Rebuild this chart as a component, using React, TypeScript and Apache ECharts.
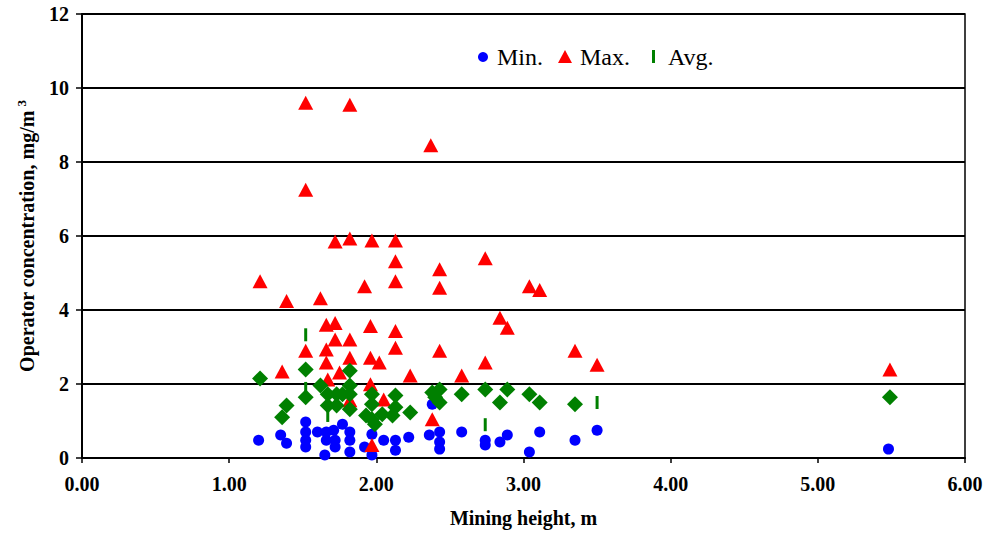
import React, { useEffect, useRef } from "react";
import * as echarts from "echarts";

const xTicks = [0, 1, 2, 3, 4, 5, 6];
const yTicks = [0, 2, 4, 6, 8, 10, 12];

const minValues: [number, number][] = [
  [1.2, 0.48], [1.35, 0.62], [1.39, 0.4], [1.52, 0.97], [1.52, 0.7], [1.52, 0.48], [1.52, 0.3],
  [1.6, 0.7], [1.66, 0.7], [1.66, 0.48], [1.65, 0.08], [1.71, 0.75], [1.72, 0.48], [1.72, 0.3],
  [1.77, 0.91], [1.82, 0.7], [1.82, 0.48], [1.82, 0.16], [1.92, 0.3], [1.97, 0.64], [1.97, 0.08],
  [2.05, 0.48], [2.13, 0.48], [2.13, 0.21], [2.22, 0.56], [2.36, 0.62], [2.38, 1.45], [2.43, 0.7],
  [2.43, 0.43], [2.43, 0.24], [2.58, 0.7], [2.74, 0.48], [2.74, 0.35], [2.84, 0.43], [2.89, 0.62],
  [3.04, 0.16], [3.11, 0.7], [3.35, 0.48], [3.5, 0.75], [5.48, 0.24],
];

const maxValues: [number, number][] = [
  [1.21, 4.78], [1.36, 2.34], [1.39, 4.24], [1.52, 9.6], [1.52, 7.25], [1.52, 2.9], [1.62, 4.32],
  [1.66, 3.6], [1.66, 2.93], [1.66, 2.58], [1.67, 2.12], [1.72, 5.85], [1.72, 3.65], [1.72, 3.2],
  [1.75, 2.31], [1.82, 9.55], [1.82, 5.93], [1.82, 3.2], [1.82, 2.71], [1.82, 1.56], [1.92, 4.64],
  [1.97, 5.88], [1.96, 3.57], [1.96, 2.71], [1.96, 1.99], [1.97, 0.35], [2.02, 2.58], [2.05, 1.58],
  [2.13, 5.88], [2.13, 5.32], [2.13, 4.78], [2.13, 3.43], [2.13, 2.98], [2.23, 2.23], [2.37, 8.45],
  [2.38, 1.05], [2.43, 5.1], [2.43, 4.6], [2.43, 2.9], [2.58, 2.23], [2.74, 5.4], [2.74, 2.58],
  [2.84, 3.79], [2.89, 3.52], [3.04, 4.64], [3.11, 4.54], [3.35, 2.9], [3.5, 2.52], [5.49, 2.39],
];

const avgDashValues: [number, number][] = [
  [1.52, 3.33], [1.52, 1.88], [1.67, 1.15], [2.74, 0.9], [3.5, 1.5],
];

const avgDiamondValues: [number, number][] = [
  [1.21, 2.15], [1.36, 1.1], [1.39, 1.42], [1.52, 2.39], [1.52, 1.64], [1.62, 1.96], [1.67, 1.72],
  [1.67, 1.42], [1.73, 1.72], [1.73, 1.42], [1.77, 1.72], [1.82, 2.36], [1.82, 1.96], [1.82, 1.72],
  [1.82, 1.32], [1.93, 1.15], [1.97, 1.72], [1.97, 1.45], [1.97, 1.05], [1.99, 0.91], [2.04, 1.18],
  [2.11, 1.15], [2.13, 1.69], [2.13, 1.37], [2.23, 1.23], [2.38, 1.77], [2.4, 1.64], [2.43, 1.85],
  [2.43, 1.5], [2.58, 1.72], [2.74, 1.85], [2.84, 1.5], [2.89, 1.85], [3.04, 1.72], [3.11, 1.5],
  [3.35, 1.45], [5.49, 1.64],
];

const legendLabels = ["Min.", "Max.", "Avg."];
const xTitle = "Mining height, m";

const SERIF = "'Liberation Serif', 'Times New Roman', serif";
const BLUE = "#0000FF";
const RED = "#FF0000";
const GREEN = "#008000";

export default function App() {
  const ref = useRef<HTMLDivElement>(null);
  useEffect(() => {
    if (!ref.current) return;
    const chart = echarts.init(ref.current, null, { renderer: "svg" });
    const legendY = 57;
    const legendFont = { fontFamily: SERIF, fontSize: 24, fill: "#000" };
    chart.setOption({
      animation: false,
      backgroundColor: "#fff",
      grid: {
        left: 82, right: 21, top: 14, bottom: 72,
        show: true, borderColor: "#000", borderWidth: 1.5, backgroundColor: "transparent",
      },
      xAxis: {
        type: "value",
        min: xTicks[0], max: xTicks[xTicks.length - 1], interval: 1,
        name: xTitle, nameLocation: "middle", nameGap: 50,
        nameTextStyle: { fontFamily: SERIF, fontWeight: "bold", fontSize: 20, color: "#000" },
        axisLine: { show: true, onZero: false, lineStyle: { color: "#000", width: 2 } },
        axisTick: { show: true, inside: false, length: 5, lineStyle: { color: "#000", width: 1.5 } },
        axisLabel: {
          fontFamily: SERIF, fontWeight: "bold", fontSize: 20, color: "#000", margin: 16,
          formatter: (v: number) => v.toFixed(2),
        },
        splitLine: { show: false },
      },
      yAxis: {
        type: "value",
        min: yTicks[0], max: yTicks[yTicks.length - 1], interval: 2,
        name: "Operator concentration, mg/m{sup|3}",
        nameLocation: "middle", nameGap: 44,
        nameTextStyle: {
          fontFamily: SERIF, fontWeight: "bold", fontSize: 20, color: "#000",
          rich: { sup: { fontFamily: SERIF, fontWeight: "bold", fontSize: 13, verticalAlign: "top", padding: [0, 0, 10, 4] } },
        },
        axisLine: { show: true, onZero: false, lineStyle: { color: "#000", width: 2 } },
        axisTick: { show: true, inside: false, length: 6, lineStyle: { color: "#000", width: 1.5 } },
        axisLabel: { fontFamily: SERIF, fontWeight: "bold", fontSize: 20, color: "#000", margin: 13 },
        splitLine: { show: true, lineStyle: { color: "#000", width: 2 } },
      },
      graphic: [
        { type: "circle", shape: { cx: 483, cy: legendY, r: 5 }, style: { fill: BLUE } },
        { type: "text", x: 497, y: legendY, style: { ...legendFont, text: legendLabels[0], verticalAlign: "middle" } },
        { type: "polygon", shape: { points: [[558, legendY + 6], [572, legendY + 6], [565, legendY - 7]] }, style: { fill: RED } },
        { type: "text", x: 580, y: legendY, style: { ...legendFont, text: legendLabels[1], verticalAlign: "middle" } },
        { type: "rect", shape: { x: 652, y: legendY - 7, width: 3, height: 13 }, style: { fill: GREEN } },
        { type: "text", x: 668, y: legendY, style: { ...legendFont, text: legendLabels[2], verticalAlign: "middle" } },
      ],
      series: [
        {
          name: legendLabels[0], type: "scatter", data: minValues, symbol: "circle", symbolSize: 11,
          itemStyle: { color: BLUE, opacity: 1 }, z: 2,
        },
        {
          name: legendLabels[1], type: "scatter", data: maxValues, symbol: "triangle", symbolSize: [15, 14],
          itemStyle: { color: RED, opacity: 1 }, z: 3,
        },
        {
          name: legendLabels[2], type: "scatter", data: avgDashValues, symbol: "rect", symbolSize: [3, 13],
          itemStyle: { color: GREEN, opacity: 1 }, z: 4,
        },
        {
          name: "Avg (diamond)", type: "scatter", data: avgDiamondValues, symbol: "diamond", symbolSize: 16,
          itemStyle: { color: GREEN, opacity: 1 }, z: 5,
        },
      ],
    });
    return () => chart.dispose();
  }, []);
  return <div ref={ref} style={{ position: "absolute", left: 0, top: 0, width: 986, height: 533 }} />;
}
